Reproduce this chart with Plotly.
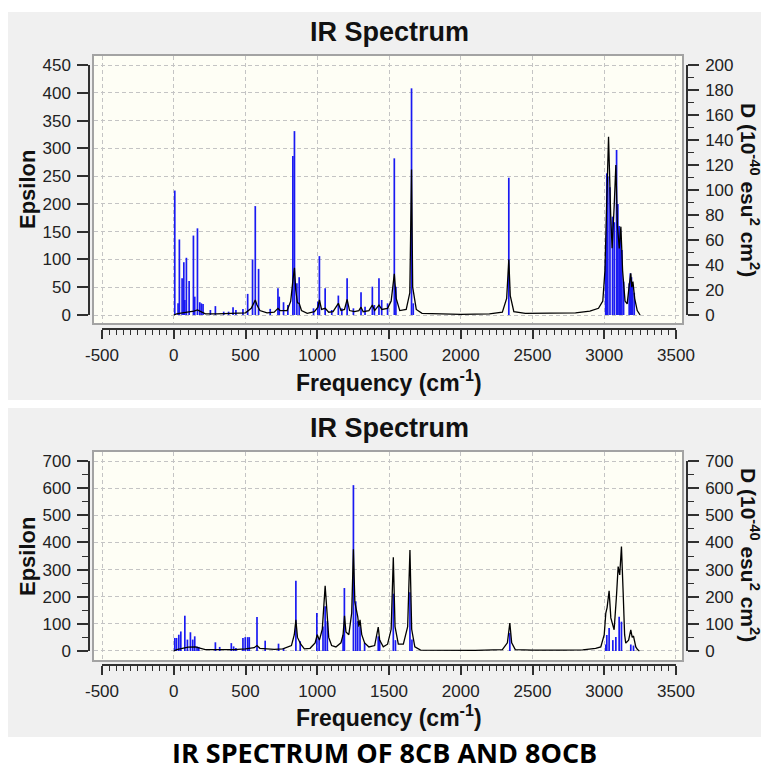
import plotly.graph_objects as go

# The page has an 8px body margin, so the figure is drawn 8px smaller and all
# screen positions below are converted with that offset.
OFF = 8
W, H = 769 - OFF, 773 - OFF

# ---------------- data ----------------
# Top spectrum (8CB): stick heights on the Epsilon scale
top_stick_freq = [7, 30, 39, 58, 70, 77, 88, 107, 137, 146, 165, 181, 192, 204, 255, 290, 348, 382, 413, 433, 482,
                  515, 549, 568, 591, 672, 726, 735, 765, 795, 830, 841, 858, 874, 974, 1004, 1015, 1055, 1101,
                  1147, 1171, 1208, 1252, 1305, 1333, 1384, 1398, 1430, 1449, 1490, 1537, 1548, 1657, 1669, 2335,
                  3010, 3018, 3025, 3040, 3058, 3070, 3086, 3095, 3104, 3112, 3123, 3135, 3174, 3182, 3190, 3197, 3209]
top_stick_eps = [224, 21, 136, 66, 95, 27, 103, 61, 143, 33, 156, 23, 21, 20, 9, 16, 6, 6, 14, 9, 11,
                 38, 100, 196, 83, 11, 48, 33, 23, 18, 286, 331, 57, 68, 12, 24, 106, 48, 9,
                 35, 12, 66, 12, 41, 15, 51, 18, 66, 27, 21, 282, 51, 408, 21, 247,
                 100, 255, 249, 230, 177, 167, 297, 200, 160, 153, 117, 60, 57, 75, 68, 55, 40]
# Top broadened curve
top_curve_freq = [0, 20, 60, 100, 140, 165, 185, 220, 300, 420, 500, 540, 560, 568, 580, 600, 650, 700, 726, 740,
                  790, 815, 830, 841, 850, 862, 874, 890, 930, 980, 1005, 1015, 1030, 1055, 1080, 1110, 1147, 1165,
                  1190, 1208, 1225, 1260, 1290, 1305, 1320, 1360, 1384, 1400, 1430, 1450, 1490, 1515, 1537, 1550,
                  1575, 1620, 1645, 1657, 1665, 1690, 1730, 1850, 2000, 2200, 2290, 2320, 2335, 2345, 2370, 2450,
                  2600, 2800, 2900, 2960, 2990, 3005, 3015, 3030, 3045, 3055, 3070, 3081, 3092, 3105, 3116, 3128,
                  3145, 3160, 3175, 3185, 3192, 3200, 3212, 3230, 3250]
top_curve_eps = [0, 2, 4, 5, 7, 9, 6, 2, 2, 3, 4, 12, 22, 27, 18, 8, 4, 5, 12, 8,
                 8, 25, 62, 85, 45, 22, 21, 8, 3, 6, 14, 27, 10, 12, 5, 6, 21, 8,
                 10, 28, 8, 6, 8, 14, 6, 8, 18, 8, 18, 10, 12, 25, 74, 30,
                 8, 10, 40, 262, 50, 10, 3, 2, 1, 2, 5, 30, 100, 35, 6, 3,
                 3, 4, 7, 12, 25, 80, 180, 321, 180, 120, 200, 270, 160, 120, 159, 80,
                 25, 20, 55, 75, 50, 60, 30, 8, 0]

# Bottom spectrum (8OCB)
bot_stick_freq = [7, 19, 35, 49, 77, 95, 116, 132, 146, 162, 174, 290, 320, 401, 417, 433, 482, 498, 515, 526,
                  580, 637, 730, 765, 851, 881, 997, 1013, 1040, 1055, 1070, 1180, 1189, 1252, 1268, 1282, 1298,
                  1330, 1425, 1435, 1530, 1545, 1646, 1660, 2342, 3011, 3018, 3034, 3060, 3081, 3104, 3120, 3185, 3204]
bot_stick_eps = [48, 48, 60, 72, 130, 42, 69, 42, 54, 17, 15, 32, 15, 29, 17, 11, 48, 51, 51, 51,
                 125, 38, 27, 11, 259, 36, 140, 48, 90, 165, 110, 60, 232, 611, 183, 110, 90,
                 30, 54, 40, 211, 40, 216, 42, 66, 24, 59, 85, 40, 52, 126, 108, 24, 20]
bot_curve_freq = [0, 20, 60, 100, 150, 180, 220, 300, 420, 500, 560, 580, 600, 650, 700, 760, 820, 840, 851, 862,
                  885, 910, 950, 985, 1000, 1015, 1035, 1055, 1070, 1080, 1100, 1130, 1165, 1180, 1190, 1200, 1220,
                  1240, 1252, 1262, 1282, 1290, 1298, 1310, 1330, 1360, 1400, 1418, 1425, 1435, 1460, 1490, 1515,
                  1530, 1542, 1565, 1600, 1630, 1646, 1658, 1680, 1720, 1900, 2100, 2290, 2325, 2342, 2355, 2380,
                  2500, 2700, 2850, 2940, 2976, 3000, 3011, 3020, 3034, 3046, 3060, 3069, 3085, 3097, 3108, 3120,
                  3132, 3142, 3150, 3170, 3185, 3195, 3204, 3220, 3232, 3245]
bot_curve_eps = [0, 5, 10, 14, 15, 10, 5, 5, 5, 8, 12, 20, 10, 8, 6, 8, 20, 60, 115, 50,
                 25, 8, 10, 30, 60, 40, 80, 240, 130, 50, 20, 15, 30, 60, 130, 70, 60,
                 140, 375, 180, 127, 90, 115, 60, 30, 15, 20, 80, 88, 40, 15, 25, 80,
                 345, 90, 25, 25, 90, 372, 80, 15, 3, 2, 2, 5, 30, 103, 30, 5,
                 3, 3, 4, 10, 15, 60, 140, 160, 222, 122, 100, 78, 200, 311, 280, 385,
                 214, 60, 29, 40, 78, 50, 55, 15, 5, 0]

# Tick labels
x_tick_vals = [-500, 0, 500, 1000, 1500, 2000, 2500, 3000, 3500]
x_tick_text = ["-500", "0", "500", "1000", "1500", "2000", "2500", "3000", "3500"]
top_left_vals = [0, 50, 100, 150, 200, 250, 300, 350, 400, 450]
top_right_vals = [0, 20, 40, 60, 80, 100, 120, 140, 160, 180, 200]
bot_left_vals = [0, 100, 200, 300, 400, 500, 600, 700]
bot_right_vals = [0, 100, 200, 300, 400, 500, 600, 700]


# ---------------- helpers (screen px -> paper fraction) ----------------
def fx(px):
    return min(1.0, max(0.0, (px - OFF) / W))


def fy(py):
    return min(1.0, max(0.0, 1 - (py - OFF) / H))


def stick_xy(freqs, vals):
    xs, ys = [], []
    for f, v in zip(freqs, vals):
        xs += [f, f, None]
        ys += [0, v, None]
    return xs, ys


FONT = "Liberation Sans, Arial, sans-serif"
BLUE = "#1a1af2"
GRID = "#c4c4c4"
FRAME = "#a3a3a3"
AX = "#303030"

fig = go.Figure()

sx, sy = stick_xy(top_stick_freq, top_stick_eps)
fig.add_trace(go.Scatter(x=sx, y=sy, mode="lines", line=dict(color=BLUE, width=1.7),
                         xaxis="x", yaxis="y", hoverinfo="skip"))
fig.add_trace(go.Scatter(x=top_curve_freq, y=top_curve_eps, mode="lines", line=dict(color="black", width=1.3),
                         xaxis="x", yaxis="y"))
sx, sy = stick_xy(bot_stick_freq, bot_stick_eps)
fig.add_trace(go.Scatter(x=sx, y=sy, mode="lines", line=dict(color=BLUE, width=1.7),
                         xaxis="x3", yaxis="y4", hoverinfo="skip"))
fig.add_trace(go.Scatter(x=bot_curve_freq, y=bot_curve_eps, mode="lines", line=dict(color="black", width=1.3),
                         xaxis="x3", yaxis="y4"))
for xa, ya in [("x2", "y2"), ("x2", "y3"), ("x4", "y5"), ("x4", "y6")]:
    fig.add_trace(go.Scatter(x=[None], y=[None], xaxis=xa, yaxis=ya, hoverinfo="skip", showlegend=False))

tickfont = dict(family=FONT, size=17, color="#222222")


def main_x(anchor):
    return dict(domain=[fx(94), fx(682)], range=[-556, 3542], anchor=anchor, showgrid=True,
                gridcolor=GRID, griddash="4px,3px", gridwidth=1, tickmode="linear", tick0=-500, dtick=500,
                showticklabels=False, ticks="", showline=True, mirror=True, linecolor=FRAME, linewidth=1.6,
                zeroline=False, automargin=False, fixedrange=True)


def main_y(anchor, dom, rng, dt):
    return dict(domain=dom, range=rng, anchor=anchor, showgrid=True, gridcolor=GRID, griddash="4px,3px",
                gridwidth=1, tickmode="linear", tick0=0, dtick=dt, showticklabels=False, ticks="",
                showline=True, mirror=True, linecolor=FRAME, linewidth=1.6, zeroline=False,
                automargin=False, fixedrange=True)


def tick_x(pos_px):
    return dict(domain=[fx(102), fx(676)], range=[-500, 3500], anchor="free", position=fy(pos_px),
                side="bottom", showline=True, linecolor=AX, linewidth=1.5, ticks="outside", ticklen=9,
                tickwidth=1.5, tickcolor=AX, tickmode="array", tickvals=x_tick_vals, ticktext=x_tick_text,
                minor=dict(ticks="outside", ticklen=5, tickwidth=1, tickcolor=AX, tick0=-500, dtick=50,
                           showgrid=False),
                showgrid=False, zeroline=False, tickfont=tickfont, ticklabelstandoff=2,
                automargin=False, fixedrange=True)


def tick_y(dom, rng, vals, side, pos_px, minor_dt=None, overlay=None):
    d = dict(domain=dom, range=rng, anchor="free", position=fx(pos_px), side=side, showline=True,
             linecolor=AX, linewidth=1.5, ticks="outside", ticklen=11, tickwidth=1.5, tickcolor=AX,
             tickmode="array", tickvals=vals, ticktext=[str(v) for v in vals], showgrid=False,
             zeroline=False, tickfont=tickfont, ticklabelstandoff=3, automargin=False, fixedrange=True)
    if minor_dt:
        d["minor"] = dict(ticks="outside", ticklen=6, tickwidth=1, tickcolor=AX, tick0=0, dtick=minor_dt,
                          showgrid=False)
    if overlay:
        d["overlaying"] = overlay
    return d


top_dom = [fy(323), fy(56)]
bot_dom = [fy(660), fy(452)]
top_tick_dom = [fy(315), fy(65)]
bot_tick_dom = [fy(651), fy(461)]

fig.update_layout(
    width=W, height=H, margin=dict(l=0, r=0, t=0, b=0), template="none",
    paper_bgcolor="white", plot_bgcolor="rgba(0,0,0,0)", showlegend=False,
    xaxis=main_x("y"),
    yaxis=main_y("x", top_dom, [-14.4, 466.2], 50),
    xaxis2=tick_x(329),
    yaxis2=tick_y(top_tick_dom, [0, 450], top_left_vals, "left", 89),
    yaxis3=tick_y(top_tick_dom, [0, 200], top_right_vals, "right", 687, minor_dt=10, overlay="y2"),
    xaxis3=main_x("y4"),
    yaxis4=main_y("x3", bot_dom, [-33.2, 733.2], 100),
    xaxis4=tick_x(665),
    yaxis5=tick_y(bot_tick_dom, [0, 700], bot_left_vals, "left", 89, minor_dt=50),
    yaxis6=tick_y(bot_tick_dom, [0, 700], bot_right_vals, "right", 687, minor_dt=50, overlay="y5"),
)

shapes = [
    dict(type="rect", xref="paper", yref="paper", x0=fx(7), x1=fx(769), y0=fy(400), y1=fy(12),
         fillcolor="#f0f0f0", line=dict(width=0), layer="below"),
    dict(type="rect", xref="paper", yref="paper", x0=fx(7), x1=fx(769), y0=fy(737), y1=fy(408),
         fillcolor="#f0f0f0", line=dict(width=0), layer="below"),
    dict(type="rect", xref="paper", yref="paper", x0=fx(94), x1=fx(682), y0=fy(323), y1=fy(56),
         fillcolor="#fefef5", line=dict(width=0), layer="below"),
    dict(type="rect", xref="paper", yref="paper", x0=fx(94), x1=fx(682), y0=fy(660), y1=fy(452),
         fillcolor="#fefef5", line=dict(width=0), layer="below"),
]
fig.update_layout(shapes=shapes)

TITLE_FONT = dict(family=FONT, size=27, color="#111111", weight="bold")
AXT_FONT = dict(family=FONT, size=23, color="#111111", weight="bold")
YT_FONT = dict(family=FONT, size=22, color="#111111", weight="bold")
RT_FONT = dict(family=FONT, size=21, color="#111111", weight="bold")


def ann(text, x, y, font, angle=0):
    return dict(text=text, x=fx(x), y=fy(y), xref="paper", yref="paper", xanchor="center", yanchor="middle",
                showarrow=False, textangle=angle, font=font)


annotations = [
    ann("IR Spectrum", 389, 32, TITLE_FONT),
    ann("IR Spectrum", 389, 428, TITLE_FONT),
    ann("Epsilon", 27, 190, YT_FONT, -90),
    ann("Epsilon", 27, 557, YT_FONT, -90),
    ann("D (10<sup>-40</sup> esu<sup>2</sup> cm<sup>2</sup>)", 750, 190, RT_FONT, 90),
    ann("D (10<sup>-40</sup> esu<sup>2</sup> cm<sup>2</sup>)", 750, 555, RT_FONT, 90),
    ann("Frequency (cm<sup>-1</sup>)", 389, 381, AXT_FONT),
    ann("Frequency (cm<sup>-1</sup>)", 389, 716, AXT_FONT),
    ann("IR SPECTRUM OF 8CB AND 8OCB", 384, 752,
        dict(family="Open Sans, sans-serif", size=27, color="black", weight="bold")),
]
fig.update_layout(annotations=annotations)

fig.write_html("out.html")
